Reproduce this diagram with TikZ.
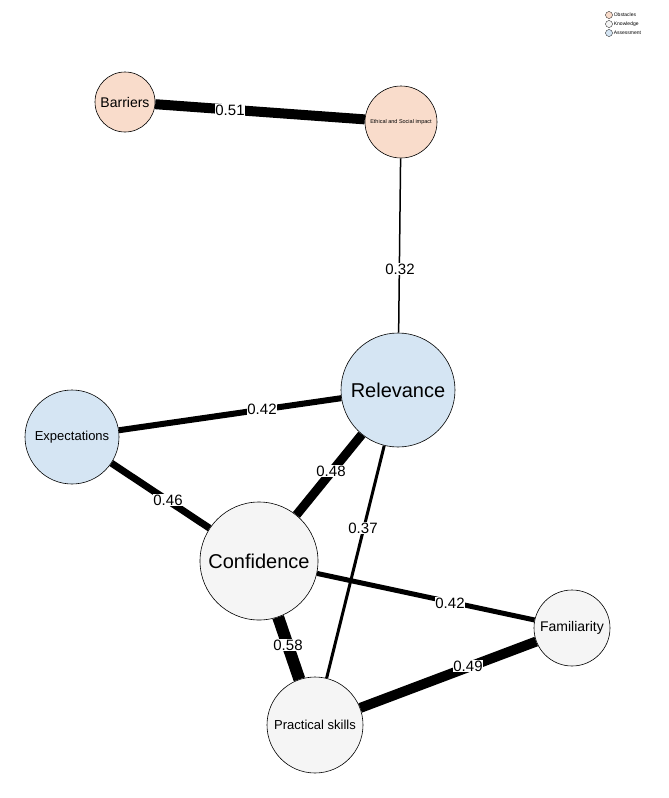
\documentclass[tikz,border=0pt]{standalone}
\usepackage{fontspec}
\setmainfont{Liberation Sans}
\usetikzlibrary{backgrounds}
\definecolor{obst}{HTML}{F9DCCB}
\definecolor{know}{HTML}{F5F5F5}
\definecolor{assess}{HTML}{D5E5F3}
\begin{document}
\begin{tikzpicture}[x=1pt, y=-1pt,
        topic/.style={circle, draw, line width=0.6pt, inner sep=0pt},
        link/.style={line width=#1},
        weight/.style={fill=white, inner sep=0.5pt, font=\fontsize{15}{15}\selectfont}]
            \useasboundingbox (0,0) rectangle (669,798);
            \node [topic, fill=obst, minimum size=60pt, font=\fontsize{14}{14}\selectfont] (barriers) at (125,102) {Barriers};
            \node [topic, fill=obst, minimum size=72pt, font=\fontsize{5.5}{6}\selectfont] (ethical) at (401,122) {Ethical and Social impact};
            \node [topic, fill=assess, minimum size=114pt, font=\fontsize{20}{20}\selectfont] (relevance) at (398,390) {Relevance};
            \node [topic, fill=assess, minimum size=94pt, font=\fontsize{13}{13}\selectfont] (expect) at (72,437) {Expectations};
            \node [topic, fill=know, minimum size=118pt, font=\fontsize{20}{20}\selectfont] (confid) at (259,561) {Confidence};
            \node [topic, fill=know, minimum size=76pt, font=\fontsize{14}{14}\selectfont] (famil) at (572,628) {Familiarity};
            \node [topic, fill=know, minimum size=96pt, font=\fontsize{13}{13}\selectfont] (skills) at (315,725) {Practical skills};

            \begin{pgfonlayer}{background}
            \draw [link=10pt] (barriers) -- (ethical);
            \draw [link=1.5pt] (ethical) -- (relevance);
            \draw [link=6pt] (expect) -- (relevance);
            \draw [link=7pt] (expect) -- (confid);
            \draw [link=9pt] (confid) -- (relevance);
            \draw [link=3pt] (skills) -- (relevance);
            \draw [link=5pt] (confid) -- (famil);
            \draw [link=12pt] (confid) -- (skills);
            \draw [link=10pt] (skills) -- (famil);
            \end{pgfonlayer}

            \node [weight] (w1) at (230,110) {0.51};
            \node [weight] (w2) at (400,269) {0.32};
            \node [weight] (w3) at (262,409) {0.42};
            \node [weight] (w4) at (168,500) {0.46};
            \node [weight] (w5) at (331,471) {0.48};
            \node [weight] (w6) at (363,528) {0.37};
            \node [weight] (w7) at (450,603) {0.42};
            \node [weight] (w8) at (288,645) {0.58};
            \node [weight] (w9) at (468,666) {0.49};

            % legend
            \foreach \c/\t [count=\i] in {obst/Obstacles, know/Knowledge, assess/Assessment}
                \node [circle, draw, line width=0.3pt, fill=\c, minimum size=7pt, inner sep=0pt,
                    label={[font=\fontsize{5}{5}\selectfont, inner sep=1pt]right:\t}] (key\i) at (609,6+9*\i) {};
        \end{tikzpicture}
\end{document}
